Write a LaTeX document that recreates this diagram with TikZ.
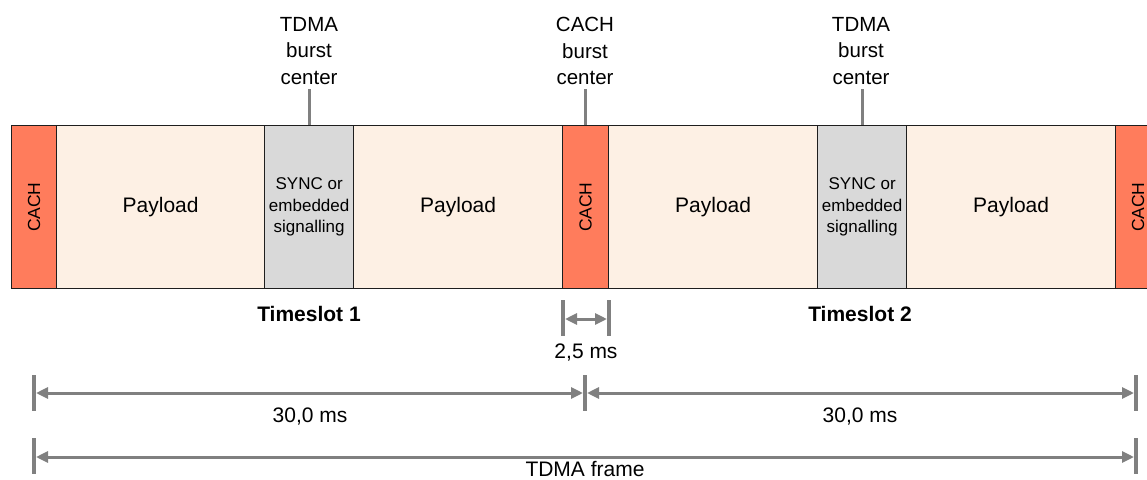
\documentclass[tikz,border=0pt]{standalone}
\usepackage{fontspec}
\setmainfont{Liberation Sans}
\usepackage{graphicx}
\usetikzlibrary{arrows.meta}
\definecolor{cachc}{RGB}{255,124,92}
\definecolor{payc}{RGB}{253,240,228}
\definecolor{syncc}{RGB}{217,217,217}
\definecolor{dimc}{RGB}{128,128,128}
\definecolor{edgec}{RGB}{30,30,30}
\begin{document}
\begin{tikzpicture}[x=1pt,y=-1pt,
  slot/.style={draw=edgec, line width=1.3pt, minimum height=163pt, inner sep=0pt, anchor=north west},
  cachbox/.style={slot, fill=cachc, font=\fontsize{17.5}{21}\selectfont},
  paybox/.style={slot, fill=payc, font=\fontsize{21}{26}\selectfont},
  syncbox/.style={slot, fill=syncc, align=center, font=\fontsize{17}{21.5}\selectfont},
  toplabel/.style={align=center, inner sep=0pt, anchor=north, font=\fontsize{20.5}{26.5}\selectfont},
  tslabel/.style={inner sep=0pt, anchor=base, font=\bfseries\fontsize{21}{24}\selectfont},
  dimlabel/.style={inner sep=0pt, anchor=base, font=\fontsize{21}{24}\selectfont},
  burstline/.style={draw=dimc, line width=3pt},
  dimtick/.style={draw=dimc, line width=4pt},
  dimline/.style={draw=dimc, line width=3pt, shorten <=2pt, shorten >=2pt,
    {Triangle[length=12pt,width=11pt]}-{Triangle[length=12pt,width=11pt]}}
]
\path[use as bounding box, clip] (0,0) rectangle (1147,479);

% slots
\node[cachbox, minimum width=45pt] (c1) at (11,125) {\rotatebox{90}{CACH}};
\node[paybox, minimum width=208pt] (p1) at (56,125) {Payload};
\node[syncbox, minimum width=89pt] (s1) at (264,125) {SYNC or\\embedded\\signalling};
\node[paybox, minimum width=209pt] (p2) at (353,125) {Payload};
\node[cachbox, minimum width=46pt] (c2) at (562,125) {\rotatebox{90}{CACH}};
\node[paybox, minimum width=209pt] (p3) at (608,125) {Payload};
\node[syncbox, minimum width=89pt] (s2) at (817,125) {SYNC or\\embedded\\signalling};
\node[paybox, minimum width=209pt] (p4) at (906,125) {Payload};
\node[cachbox, minimum width=45pt] (c3) at (1115,125) {\rotatebox{90}{CACH}};

% burst centre labels
\node[toplabel] (l1) at (309,17) {TDMA\\burst\\center};
\node[toplabel] (l2) at (585,17) {CACH\\burst\\center};
\node[toplabel] (l3) at (861,17) {TDMA\\burst\\center};
\coordinate (t1) at (309,89);
\coordinate (t2) at (585,89);
\coordinate (t3) at (861,89);
\draw[burstline] (s1.north) -- (s1.north |- t1);
\draw[burstline] (c2.north) -- (c2.north |- t2);
\draw[burstline] (s2.north) -- (s2.north |- t3);

% timeslot labels
\node[tslabel] (ts1) at (309,321) {Timeslot 1};
\node[tslabel] (ts2) at (860,321) {Timeslot 2};

% 2,5 ms
\coordinate (a1t) at (563,300); \coordinate (a1b) at (563,336);
\coordinate (a2t) at (609,300); \coordinate (a2b) at (609,336);
\coordinate (a1) at (563,319); \coordinate (a2) at (609,319);
\draw[dimtick] (a1t) -- (a1b);
\draw[dimtick] (a2t) -- (a2b);
\draw[dimline] (a1) -- (a2);
\node[dimlabel] (d25) at (586,358) {2,5 ms};

% 30,0 ms row
\coordinate (b1t) at (34,375); \coordinate (b1b) at (34,411);
\coordinate (b2t) at (585,375); \coordinate (b2b) at (585,411);
\coordinate (b3t) at (1136,375); \coordinate (b3b) at (1136,411);
\coordinate (b1) at (34,393); \coordinate (b2) at (585,393); \coordinate (b3) at (1136,393);
\draw[dimtick] (b1t) -- (b1b);
\draw[dimtick] (b2t) -- (b2b);
\draw[dimtick] (b3t) -- (b3b);
\draw[dimline] (b1) -- (b2);
\draw[dimline] (b2) -- (b3);
\node[dimlabel] (d30a) at (310,422) {30,0 ms};
\node[dimlabel] (d30b) at (860,422) {30,0 ms};

% TDMA frame row
\coordinate (f1t) at (34,438); \coordinate (f1b) at (34,474);
\coordinate (f2t) at (1136,438); \coordinate (f2b) at (1136,474);
\coordinate (f1) at (34,457); \coordinate (f2) at (1136,457);
\draw[dimtick] (f1t) -- (f1b);
\draw[dimtick] (f2t) -- (f2b);
\draw[dimline] (f1) -- (f2);
\node[dimlabel] (dfr) at (585,476) {TDMA frame};
\end{tikzpicture}
\end{document}
